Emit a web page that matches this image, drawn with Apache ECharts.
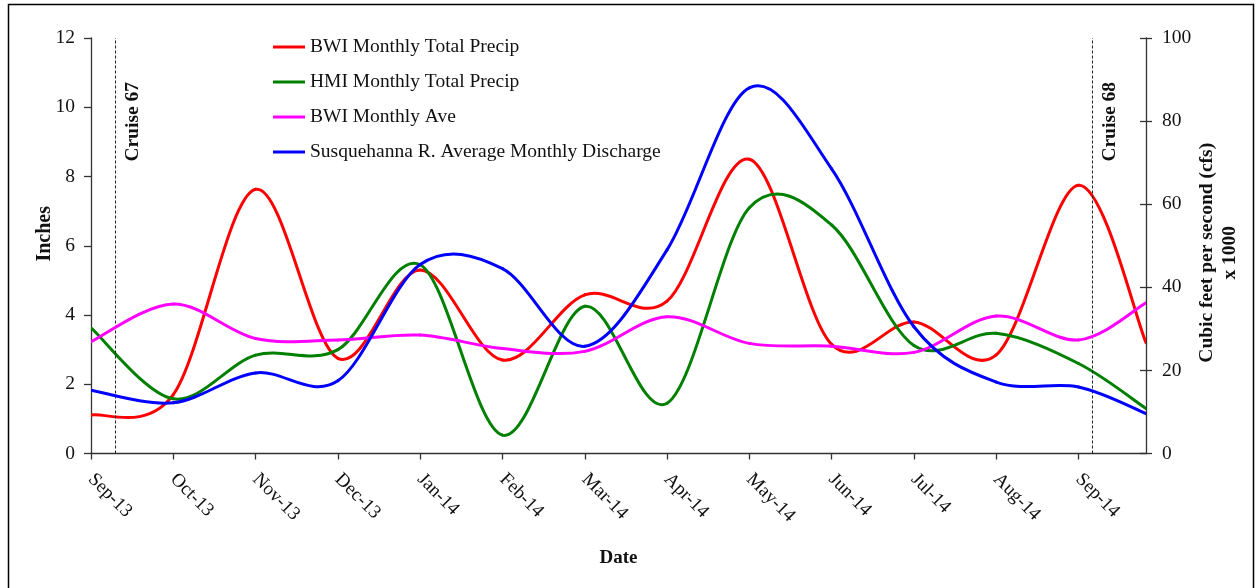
<!DOCTYPE html>
<html>
<head>
<meta charset="utf-8">
<script src="https://cdn.jsdelivr.net/npm/echarts@6/dist/echarts.min.js"></script>
<style>
  html, body { margin: 0; padding: 0; background: #fff; }
  #chart { width: 1259px; height: 588px; }
</style>
</head>
<body>
<div id="chart"></div>
<script>
// Month tick labels (one per month start, Sep 2013 .. Sep 2014)
const monthLabels = ['Sep-13', 'Oct-13', 'Nov-13', 'Dec-13', 'Jan-14', 'Feb-14', 'Mar-14',
  'Apr-14', 'May-14', 'Jun-14', 'Jul-14', 'Aug-14', 'Sep-14'];

// Sample positions in months after 1 Sep 2013 (last sample falls late Sep 2014)
const sampleMonth = [0, 1, 2, 3, 4, 5, 6, 7, 8, 9, 10, 11, 12, 12.82];

// Precipitation, inches
const bwiTotal = [1.11, 1.7, 7.63, 2.75, 5.3, 2.7, 4.58, 4.4, 8.5, 3.15, 3.8, 2.85, 7.75, 3.2];
const hmiTotal = [3.63, 1.58, 2.84, 3.0, 5.45, 0.53, 4.25, 1.45, 7.1, 6.6, 3.12, 3.47, 2.6, 1.3];
const bwiAve = [3.23, 4.32, 3.32, 3.28, 3.42, 3.03, 2.95, 3.95, 3.18, 3.1, 2.92, 3.97, 3.28, 4.35];

// Susquehanna River discharge, thousand cfs
const discharge = [15.2, 12.2, 19.4, 17.5, 45.5, 44.5, 25.8, 49, 88, 68.5, 30.5, 17.2, 16.0, 9.6];

// Cruise dates, months after 1 Sep 2013
const cruiseMonth = [0.3, 12.17];
const cruiseNames = ['Cruise 67', 'Cruise 68'];

const seriesNames = ['BWI Monthly Total Precip', 'HMI Monthly Total Precip',
  'BWI Monthly Ave', 'Susquehanna R. Average Monthly Discharge'];
const seriesColors = ['#ff0000', '#008000', '#ff00ff', '#0000ff'];

const SERIF = "'Liberation Serif', 'Times New Roman', serif";
const pairs = (ys) => ys.map((y, i) => [sampleMonth[i], y]);

// Smoothed line: each data item draws the cubic Bezier segment to the next
// point, with Catmull-Rom tangents taken from the neighbouring points.
function smoothSegment(color) {
  return function (params, api) {
    const n = params.dataInsideLength;
    const i = params.dataIndexInside;
    if (i >= n - 1) return null;
    const pt = (k) => {
      const kk = Math.max(0, Math.min(n - 1, k));
      return api.coord([api.value(0, kk), api.value(1, kk)]);
    };
    const p0 = pt(i - 1), p1 = pt(i), p2 = pt(i + 1), p3 = pt(i + 2);
    return {
      type: 'bezierCurve',
      shape: {
        x1: p1[0], y1: p1[1], x2: p2[0], y2: p2[1],
        cpx1: p1[0] + (p2[0] - p0[0]) / 6, cpy1: p1[1] + (p2[1] - p0[1]) / 6,
        cpx2: p2[0] - (p3[0] - p1[0]) / 6, cpy2: p2[1] - (p3[1] - p1[1]) / 6
      },
      style: { stroke: color, lineWidth: 3, fill: null, lineCap: 'round' },
      silent: true
    };
  };
}

function lineSeries(idx, values, yAxisIndex) {
  return {
    name: seriesNames[idx],
    type: 'custom',
    coordinateSystem: 'cartesian2d',
    yAxisIndex: yAxisIndex,
    data: pairs(values),
    encode: { x: 0, y: 1 },
    renderItem: smoothSegment(seriesColors[idx]),
    itemStyle: { color: seriesColors[idx] },
    clip: true,
    z: 3 + idx
  };
}

const chart = echarts.init(document.getElementById('chart'), null, { renderer: 'canvas' });

const tickIdx = monthLabels.map((_, i) => i);
const axisLineStyle = { color: '#333', width: 1.3 };

// Dashed cruise markers
const cruiseSeries = {
  name: 'cruises',
  type: 'line',
  data: [],
  silent: true,
  markLine: {
    silent: true,
    symbol: 'none',
    animation: false,
    lineStyle: { color: '#222', type: [3, 2], width: 1 },
    label: {
      show: true,
      position: 'insideEndBottom',
      formatter: (p) => p.name,
      fontFamily: SERIF,
      fontWeight: 'bold',
      fontSize: 19.5,
      color: '#111',
      distance: [44, 7]
    },
    data: cruiseMonth.map((m, i) => ({ xAxis: m, name: cruiseNames[i] }))
  },
  z: 2
};

chart.setOption({
  animation: false,
  backgroundColor: '#fff',
  textStyle: { fontFamily: SERIF },
  grid: { left: 91, right: 113, top: 38, bottom: 134.5, containLabel: false },
  legend: {
    orient: 'vertical',
    left: 268,
    top: 32,
    itemWidth: 32,
    itemHeight: 3,
    itemGap: 15,
    icon: 'rect',
    textStyle: { fontFamily: SERIF, fontSize: 19.5, color: '#111' },
    data: seriesNames
  },
  xAxis: {
    type: 'value',
    min: 0,
    max: sampleMonth[sampleMonth.length - 1],
    interval: 1,
    name: 'Date',
    nameLocation: 'middle',
    nameGap: 95,
    nameMoveOverlap: false,
    nameTextStyle: { fontFamily: SERIF, fontWeight: 'bold', fontSize: 19, color: '#111' },
    axisLine: { show: true, lineStyle: axisLineStyle },
    axisTick: { show: true, length: 6, lineStyle: axisLineStyle, customValues: tickIdx },
    axisLabel: {
      customValues: tickIdx,
      rotate: -45,
      margin: 23,
      fontFamily: SERIF,
      fontSize: 19,
      color: '#111',
      formatter: (v) => (Number.isInteger(v) && monthLabels[v]) ? monthLabels[v] : ''
    },
    splitLine: { show: false }
  },
  yAxis: [
    {
      type: 'value',
      min: 0,
      max: 12,
      interval: 2,
      name: 'Inches',
      nameLocation: 'middle',
      nameGap: 36,
      nameMoveOverlap: false,
      nameTextStyle: { fontFamily: SERIF, fontWeight: 'bold', fontSize: 20, color: '#111',
        padding: [0, 0, 0, 24] },
      axisLine: { show: true, lineStyle: axisLineStyle },
      axisTick: { show: true, length: 7, lineStyle: axisLineStyle },
      axisLabel: { margin: 16, fontFamily: SERIF, fontSize: 19.5, color: '#111' },
      splitLine: { show: false }
    },
    {
      type: 'value',
      min: 0,
      max: 100,
      interval: 20,
      position: 'right',
      name: 'Cubic feet per second (cfs)\nx 1000',
      nameLocation: 'middle',
      nameGap: 49,
      nameRotate: 90,
      nameMoveOverlap: false,
      nameTextStyle: { fontFamily: SERIF, fontWeight: 'bold', fontSize: 19.5, color: '#111',
        align: 'center', lineHeight: 23, padding: [0, 14, 0, 0] },
      axisLine: { show: true, lineStyle: axisLineStyle },
      axisTick: { show: true, length: 6, lineStyle: axisLineStyle },
      axisLabel: { margin: 16, fontFamily: SERIF, fontSize: 19.5, color: '#111' },
      splitLine: { show: false }
    },
    {
      // inner half of the crossing ticks on the discharge axis
      type: 'value',
      min: 0,
      max: 100,
      interval: 20,
      position: 'right',
      axisLine: { show: false },
      axisTick: { show: true, inside: true, length: 6, lineStyle: axisLineStyle },
      axisLabel: { show: false },
      splitLine: { show: false }
    }
  ],
  graphic: [{
    type: 'rect',
    silent: true,
    shape: { x: 8.5, y: 4.5, width: 1245, height: 700 },
    style: { fill: 'none', stroke: '#000', lineWidth: 1.5 },
    z: 100
  }],
  series: [
    cruiseSeries,
    lineSeries(0, bwiTotal, 0),
    lineSeries(1, hmiTotal, 0),
    lineSeries(2, bwiAve, 0),
    lineSeries(3, discharge, 1)
  ]
});
</script>
</body>
</html>
